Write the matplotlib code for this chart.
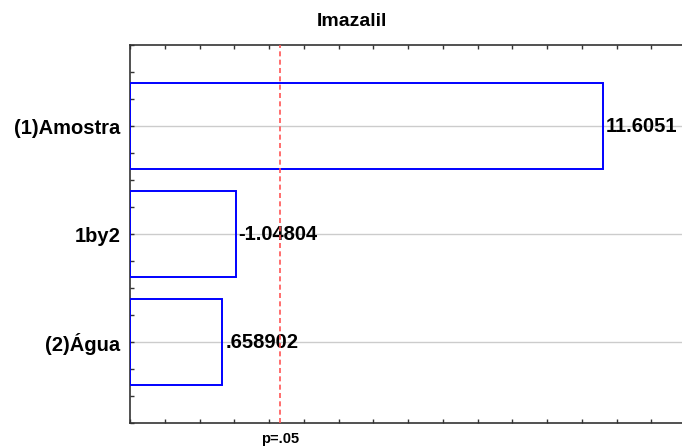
import matplotlib.pyplot as plt
import numpy as np
from matplotlib.ticker import MultipleLocator

plt.rcParams['font.family'] = ['Liberation Sans', 'DejaVu Sans']

# standardized effects, top to bottom
factors = ['(1)Amostra', '1by2', '(2)Água']
effects = [11.6051, -1.04804, 0.658902]
p_crit = 2.306  # t(.05)
title = 'Imazalil'
xmin, xmax = -2, 14


def fmt(v):
    s = f'{v:g}'
    return s.replace('0.', '.', 1) if s.startswith('0.') else s


fig = plt.figure(figsize=(6.82, 4.47), dpi=100)
ax = fig.add_axes([130 / 682, 24 / 447, 556 / 682, 378 / 447])

ypos = np.arange(len(factors))[::-1]
# bars run from the left edge of the axis out to |effect|
ax.barh(ypos, np.abs(effects) - xmin, height=0.8, left=xmin, facecolor='none',
        edgecolor='#0000ff', linewidth=1.4, zorder=3)
for y, v in zip(ypos, effects):
    ax.text(abs(v) + 0.08, y, fmt(v), va='center', ha='left',
            fontsize=14.5, fontweight='bold', zorder=4)

ax.axvline(p_crit, color='#ff5555', linestyle=(0, (3, 2)), linewidth=1.2, zorder=4)

ax.set_xlim(xmin, xmax)
ax.set_ylim(-0.75, len(factors) - 0.25)
ax.set_yticks(ypos)
ax.set_yticklabels(factors, fontsize=14.5, fontweight='bold')
ax.yaxis.set_minor_locator(MultipleLocator(0.25))
ax.xaxis.set_major_locator(MultipleLocator(1))
ax.set_xticklabels([])
ax.grid(axis='y', which='major', color='#cccccc', linewidth=1, zorder=0)

ax.tick_params(axis='both', which='both', direction='in', top=True,
               right=False, color='#333333', length=3, width=1)
ax.tick_params(axis='y', which='major', pad=7)
ax.spines['right'].set_visible(False)
for s in ['left', 'top', 'bottom']:
    ax.spines[s].set_color('#333333')
    ax.spines[s].set_linewidth(1.2)

ax.text(p_crit, -0.83, 'p=.05', transform=ax.transData, ha='center', va='top',
        fontsize=10.5, fontweight='bold', clip_on=False)
fig.text(352 / 682, 1 - 21 / 447, title, ha='center', va='center',
         fontsize=14, fontweight='bold')

fig.savefig('out.png', dpi=100)
